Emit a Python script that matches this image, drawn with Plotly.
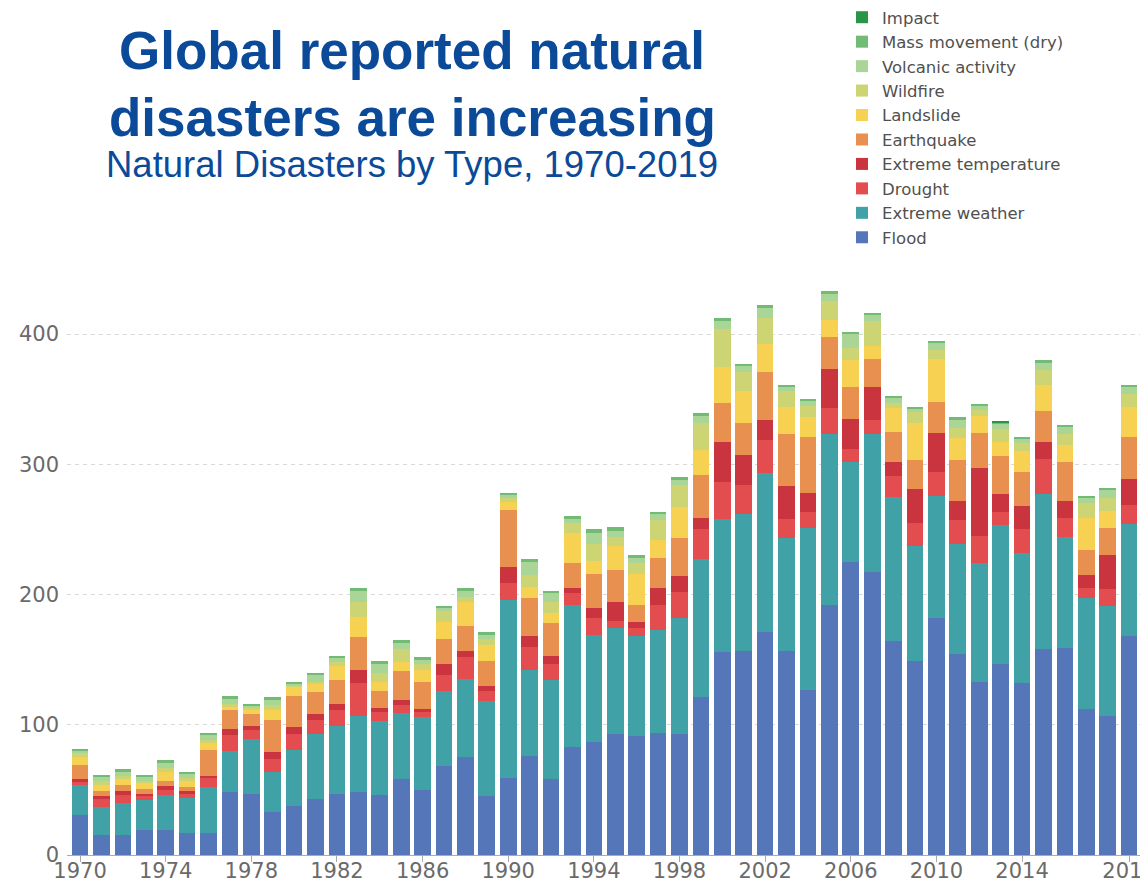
import plotly.graph_objects as go

years = list(range(1970, 2020))

flood = [31, 15, 15, 19, 19, 17, 17, 48, 47, 33,
         38, 43, 47, 48, 46, 58, 50, 68, 75, 45,
         59, 76, 58, 83, 87, 93, 91, 94, 93, 121,
         156, 157, 171, 157, 127, 192, 225, 217, 164, 149,
         182, 154, 133, 147, 132, 158, 159, 112, 107, 168]
extreme_weather = [23, 22, 25, 23, 27, 27, 35, 32, 42, 31,
                   43, 50, 52, 59, 57, 51, 56, 58, 60, 73,
                   137, 66, 76, 109, 82, 81, 77, 79, 89, 106,
                   102, 105, 122, 86, 124, 131, 77, 106, 111, 88,
                   94, 85, 91, 106, 100, 119, 85, 85, 84, 86]
drought = [2, 6, 6, 3, 4, 3, 7, 12, 7, 10,
           12, 11, 12, 25, 7, 6, 4, 12, 17, 8,
           13, 18, 13, 9, 13, 6, 6, 19, 20, 23,
           28, 22, 26, 15, 12, 20, 10, 11, 16, 18,
           18, 18, 21, 10, 18, 27, 15, 8, 13, 15]
extreme_temperature = [2, 2, 3, 2, 3, 2, 2, 5, 3, 5,
                       5, 4, 5, 10, 3, 4, 2, 9, 5, 4,
                       12, 8, 6, 4, 8, 14, 5, 13, 12, 9,
                       31, 23, 15, 25, 15, 30, 23, 25, 11, 26,
                       30, 15, 52, 14, 18, 13, 13, 10, 26, 20]
earthquake = [11, 4, 5, 4, 4, 3, 20, 14, 9, 25,
              24, 17, 18, 25, 13, 22, 21, 19, 19, 19,
              44, 29, 25, 19, 26, 25, 13, 23, 29, 33,
              30, 25, 37, 40, 43, 25, 24, 22, 23, 22,
              24, 31, 27, 29, 26, 24, 30, 19, 21, 32]
landslide = [6, 5, 4, 4, 7, 5, 5, 3, 4, 7,
             7, 6, 11, 16, 7, 7, 9, 13, 18, 12,
             6, 9, 8, 23, 10, 18, 24, 14, 24, 19,
             28, 24, 21, 21, 15, 13, 21, 10, 18, 29,
             33, 17, 13, 11, 16, 20, 13, 25, 13, 23]
wildfire = [3, 3, 3, 2, 3, 2, 2, 2, 1, 4,
            1, 2, 3, 11, 7, 10, 5, 8, 4, 5,
            3, 9, 8, 8, 13, 7, 8, 15, 17, 21,
            29, 15, 20, 12, 9, 14, 9, 19, 4, 8,
            7, 8, 5, 10, 6, 11, 8, 11, 10, 10]
volcanic_activity = [2, 3, 3, 3, 4, 3, 4, 4, 2, 4,
                     2, 5, 3, 9, 7, 5, 3, 3, 5, 3,
                     3, 10, 7, 3, 8, 5, 4, 5, 4, 5,
                     6, 5, 8, 4, 4, 6, 11, 5, 4, 3,
                     5, 6, 3, 4, 4, 6, 6, 4, 6, 5]
mass_movement_dry = [1, 1, 2, 1, 2, 2, 2, 2, 1, 2,
                     1, 2, 2, 2, 2, 2, 2, 1, 2, 2,
                     1, 2, 2, 2, 3, 3, 2, 1, 2, 2,
                     2, 1, 2, 1, 1, 2, 1, 1, 1, 1,
                     2, 2, 1, 1, 1, 2, 1, 2, 2, 2]
impact = [0, 0, 0, 0, 0, 0, 0, 0, 0, 0,
          0, 0, 0, 0, 0, 0, 0, 0, 0, 0,
          0, 0, 0, 0, 0, 0, 0, 0, 0, 0,
          0, 0, 0, 0, 0, 0, 0, 0, 0, 0,
          0, 0, 0, 1, 0, 0, 0, 0, 0, 0]

series_names = ["Flood", "Extreme weather", "Drought", "Extreme temperature",
                "Earthquake", "Landslide", "Wildfire", "Volcanic activity",
                "Mass movement (dry)", "Impact"]
series_values = [flood, extreme_weather, drought, extreme_temperature,
                 earthquake, landslide, wildfire, volcanic_activity,
                 mass_movement_dry, impact]
series_colors = ["#5576b9", "#40a2a6", "#e44d4f", "#c9343f",
                 "#e8904f", "#f7d252", "#cdd474", "#a9d596",
                 "#72bb74", "#2a9548"]

x_tickvals = [1970, 1974, 1978, 1982, 1986, 1990, 1994, 1998,
              2002, 2006, 2010, 2014, 2019]
y_tickvals = [0, 100, 200, 300, 400]

title_line1 = "Global reported natural"
title_line2 = "disasters are increasing"
subtitle = "Natural Disasters by Type, 1970-2019"

W, H = 1140, 883
ML, MR, MT, MB = 67, 0, 270, 28
PW = W - ML - MR
PH = H - MT - MB
PX_PER_UNIT = 1.3025


def px(x):
    return (x - ML) / PW


def py(y):
    return (H - MB - y) / PH


fig = go.Figure()
for name, vals, color in zip(series_names, series_values, series_colors):
    fig.add_trace(go.Bar(x=years, y=vals, name=name,
                         marker=dict(color=color, line=dict(width=0))))

tick_font = dict(family="DejaVu Sans, Verdana, sans-serif", size=21, color="#6a6a6a")
title_color = "#0b4a99"

fig.update_layout(
    template="none",
    barmode="stack",
    bargap=0.22,
    width=W, height=H,
    margin=dict(l=ML, r=MR, t=MT, b=MB, pad=0),
    paper_bgcolor="white",
    plot_bgcolor="white",
    showlegend=True,
    legend=dict(
        traceorder="reversed",
        x=px(842), xanchor="left",
        y=py(0), yanchor="top",
        font=dict(family="DejaVu Sans, Verdana, sans-serif", size=16.5, color="#505050"),
        bgcolor="rgba(0,0,0,0)",
        borderwidth=0,
    ),
    xaxis=dict(
        range=[1969.39, 2019.51],
        tickvals=x_tickvals,
        ticktext=[str(v) for v in x_tickvals],
        showgrid=False,
        showline=True, linecolor="#aaaaaa", linewidth=1,
        ticks="outside", ticklen=6, tickcolor="#aaaaaa",
        ticklabelstandoff=-9,
        ticklabeloverflow="allow",
        tickfont=tick_font,
        automargin=False,
        zeroline=False,
    ),
    yaxis=dict(
        range=[0, PH / PX_PER_UNIT],
        tickvals=y_tickvals,
        showgrid=True, gridcolor="#d9d9d9", griddash="4px,4px", gridwidth=1,
        zeroline=False, showline=False,
        ticks="", ticklabelstandoff=7,
        tickfont=tick_font,
        automargin=False,
    ),
    annotations=[
        dict(text="<b>" + title_line1 + "</b>", xref="paper", yref="paper",
             x=px(412), y=py(50), xanchor="center", yanchor="middle",
             showarrow=False,
             font=dict(family="Liberation Sans, Arial, sans-serif", size=53, color=title_color)),
        dict(text="<b>" + title_line2 + "</b>", xref="paper", yref="paper",
             x=px(412), y=py(117), xanchor="center", yanchor="middle",
             showarrow=False,
             font=dict(family="Liberation Sans, Arial, sans-serif", size=53, color=title_color)),
        dict(text=subtitle, xref="paper", yref="paper",
             x=px(412), y=py(164), xanchor="center", yanchor="middle",
             showarrow=False,
             font=dict(family="Liberation Sans, Arial, sans-serif", size=36.5, color=title_color)),
    ],
)

fig.write_html("out.html", config={"displayModeBar": False})
